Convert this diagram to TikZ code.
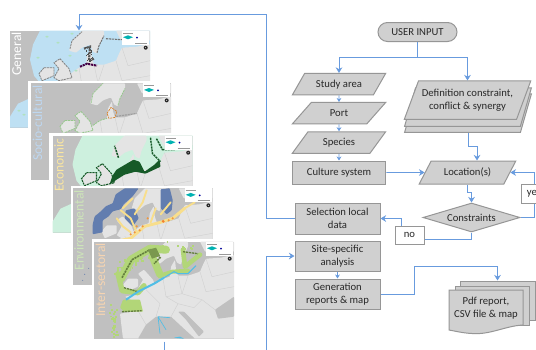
\documentclass[tikz,border=0pt]{standalone}
\usepackage{fontspec}
\setmainfont{Carlito}
\usetikzlibrary{shapes.geometric,shapes.misc,arrows.meta,calc}
\definecolor{flowfill}{RGB}{208,208,208}
\definecolor{flowline}{RGB}{150,150,150}
\definecolor{wire}{RGB}{104,155,222}
\definecolor{inkc}{RGB}{40,40,40}
\definecolor{seag}{RGB}{192,192,192}
\definecolor{landg}{RGB}{228,228,228}
\definecolor{bordg}{RGB}{208,208,208}
\definecolor{eezblue}{RGB}{190,224,243}
\definecolor{eezgreen}{RGB}{205,240,222}
\definecolor{darkgreen}{RGB}{22,90,40}
\definecolor{envblue}{RGB}{98,125,175}
\definecolor{envyellow}{RGB}{248,222,140}
\definecolor{envorange}{RGB}{240,150,60}
\definecolor{intg}{RGB}{178,214,120}
\definecolor{intd}{RGB}{98,125,60}
\definecolor{cyanl}{RGB}{80,190,230}
\definecolor{titleblue}{RGB}{190,215,240}
\definecolor{titleyellow}{RGB}{250,230,160}
\definecolor{titlegreen}{RGB}{205,228,185}
\definecolor{titlepeach}{RGB}{245,212,178}
\definecolor{palegreen}{RGB}{176,226,190}
\definecolor{coastgreen}{RGB}{150,200,140}
\tikzset{
  flow/.style={draw=flowline,fill=flowfill,line width=0.75pt,text=inkc,font=\fontsize{8}{9.6}\selectfont,align=center,inner sep=0pt},
  boxn/.style={flow,rectangle,minimum width=#1*0.75pt},
  para/.style={flow,trapezium,trapezium left angle=48,trapezium right angle=132,trapezium stretches=true,minimum height=21.5*0.75pt,minimum width=93.5*0.75pt},
  wirel/.style={draw=wire,line width=0.72pt},
  arr/.style={wirel,-{Stealth[length=4.2pt,width=5pt]}},
  arrs/.style={wirel,-{Stealth[length=3pt,width=3.6pt]}},
  tag/.style={draw=flowline,fill=white,line width=0.75pt,text=inkc,font=\fontsize{8}{9.6}\selectfont,inner sep=0pt},
  cardtitle/.style={rotate=90,anchor=east,inner sep=0pt,font=\fontsize{#1}{#1}\selectfont},
  band/.style={line join=round,line cap=round},
  coast/.style={dash pattern=on 1.6pt off 0.6pt},
}
% speckled band: x0 y0 x1 y1 count jitter size colour
\newcommand{\speck}[8]{%
  \foreach \i in {1,...,#5}{%
    \pgfmathsetmacro\ss{rnd}%
    \pgfmathsetmacro\xx{#1+(#3-#1)*\ss+#6*rand}%
    \pgfmathsetmacro\yy{#2+(#4-#2)*\ss+#6*rand}%
    \fill[#8] (\xx,\yy) rectangle +(#7,#7);%
  }%
}
% land masses, in card coordinates (140 x 97 px)
\newcommand{\eezshape}[1]{%
  \fill[#1] (30,0) -- (23,14) -- (20,29) -- (24,45) -- (34,57) -- (48,66) -- (100,66) -- (140,40) -- (140,0) -- cycle;
  \fill[#1] (0,97) -- (0,86) -- (8,73) -- (19,68) -- (24,80) -- (24,97) -- cycle;
}
\newcommand{\ukpath}{(50,28) -- (59,38) -- (62,47) -- (49,50) -- (44,47) -- (49,38) -- (44,32) -- cycle}
\newcommand{\iepath}{(34,37) -- (44,37) -- (44,45) -- (32,50) -- (29,43) -- cycle}
\newcommand{\landshape}{%
  \fill[landg,rounded corners=0.6pt]
    (29,97) -- (26,72) -- (44,69) -- (47,60) -- (36,58) -- (31,55) -- (44,52) -- (52,48) -- (62,42) -- (69,37)
    -- (76,35) -- (77,25) -- (81,18) -- (82,28) -- (84,34) -- (94,34) -- (106,30) -- (109,23) -- (112,17)
    -- (127,16) -- (140,13) -- (140,97) -- cycle;
  \fill[landg,rounded corners=0.6pt] \ukpath;
  \fill[landg,rounded corners=0.6pt] \iepath;
  \fill[landg,rounded corners=0.6pt] (59,20) -- (62,10) -- (72,0) -- (94,0) -- (94,5) -- (89,15) -- (87,23) -- (83,21) -- (80,14) -- (72,17) -- (66,22) -- cycle;
  \fill[landg,rounded corners=0.6pt] (106,0) -- (111,10) -- (140,10) -- (140,0) -- cycle;
  % Mediterranean, Adriatic, Black Sea
  \fill[seag,rounded corners=0.6pt] (44,97) -- (52,83) -- (62,75) -- (77,75) -- (91,88) -- (101,97) -- cycle;
  \fill[seag,rounded corners=0.6pt] (84,70) -- (90,70) -- (110,90) -- (105,95) -- (92,78) -- cycle;
  \fill[seag,rounded corners=0.6pt] (121,68) -- (140,55) -- (140,75) -- (124,77) -- cycle;
  \draw[bordg,line width=0.3pt] (52,48) -- (66,62) -- (62,75) (69,37) -- (72,55) -- (84,62) -- (77,75)
    (84,34) -- (88,52) -- (108,58) -- (121,68) (106,30) -- (112,50) -- (140,45) (72,55) -- (88,52)
    (44,69) -- (52,83) (94,34) -- (88,52) (84,62) -- (100,66) -- (108,58) (112,17) -- (118,35) -- (140,30);
}
\newcommand{\legendbox}{%
  \fill[white] (112,0) rectangle (139,14);
  \fill[teal!60!cyan] (113,6.5) -- (118,4.6) -- (123,6.5) -- (118,8.6) -- cycle;
  \fill[blue!60!black] (127,7) circle (1);
  \draw[black!40,line width=0.3pt] (113,2) -- (123,2) (125,12) -- (137,12);
  \fill[black!85] (135.7,17) circle (2);
  \fill[white] (135.7,17) circle (0.5);
}
\newcommand{\startcard}[2]{\begin{scope}[shift={(#1,#2)}]\begin{scope}\clip (0,0) rectangle (140,97);\fill[seag] (0,0) rectangle (140,97);}
\newcommand{\stopcard}{\legendbox\end{scope}\end{scope}}
\begin{document}
\begin{tikzpicture}[x=0.75pt,y=-0.75pt]
\pgfmathsetseed{4711}
\clip (0,0) rectangle (536,350);
\fill[white] (0,0) rectangle (536,350);
% ---------- General
\startcard{10}{30.7}
  \eezshape{eezblue}\landshape
  \foreach \a/\b in {37/6,62/3,28/27,60/25,66/40,58/60,14/84,9/80,48/12}{\fill[palegreen] (\a,\b) ellipse (1.8 and 1);}
  \draw[black!50,line width=0.6pt,coast] \ukpath;
  \draw[black!50,line width=0.6pt,coast] \iepath;
  \draw[black!50,line width=0.6pt,coast] (60,18) -- (62,10) -- (72,1);
  \draw[black!65,line width=1.6pt,coast] (74,18) -- (80,16) -- (79,30) -- (84,28);
  \speck{78}{18}{80}{32}{22}{2.6}{1.1}{black!70}
  \draw[black!55,line width=0.8pt,coast] (87,22) -- (89,15) -- (94,5) (96,8) -- (112,9);
  \draw[violet!55!black,line width=1.5pt,coast] (70,36) -- (77,33) -- (87,35);
\stopcard
\node[cardtitle=10.2,text=white] (tgen) at (16.5,32) {General};
% ---------- Socio-cultural
\fill[white] (28.3,80.8) rectangle (173,183);
\startcard{31}{83.4}
  \landshape
  \draw[coastgreen,line width=0.6pt,coast] \ukpath;
  \draw[coastgreen,line width=0.6pt,coast] \iepath;
  \draw[coastgreen,line width=0.6pt,coast] (60,20) -- (62,10) -- (72,0) (62,42) -- (69,37) -- (76,35) (87,22) -- (89,15) -- (94,5);
  \draw[orange!70!gray,line width=0.5pt,coast] (76,30) -- (80,24) -- (86,28) -- (84,34) -- (78,35) -- cycle;
  \draw[black!38,line width=0.9pt,coast] (85,33) -- (106,30);
\stopcard
\node[cardtitle=10.2,text=titleblue] (tsoc) at (37.5,85) {Socio-cultural};
% ---------- Economic
\fill[white] (49.3,133.2) rectangle (194,235.5);
\startcard{52.5}{135.7}
  \eezshape{eezgreen}\landshape
  \fill[darkgreen,rounded corners=0.5pt] (64,34) -- (81,24) -- (87,26) -- (92,36) -- (102,29) -- (107,24) -- (108,31) -- (93,38) -- (83,36) -- (72,39) -- (64,44) -- (57,49) -- (60,40) -- cycle;
  \draw[darkgreen,line width=0.8pt,coast] \ukpath;
  \draw[darkgreen,line width=0.8pt,coast] \iepath;
  \draw[darkgreen,line width=1.1pt,coast] (98,2) -- (100,18) -- (108,26) (104,3) -- (110,14) -- (122,14) (66,22) -- (62,10);
\stopcard
\node[cardtitle=10.2,text=titleyellow] (teco) at (59,138) {Economic};
% ---------- Environmental
\fill[white] (70.7,186) rectangle (215,287);
\startcard{72.7}{188.3}
  \landshape
  \fill[envblue,rounded corners=0.6pt] (20,36) -- (22,28) -- (27,24) -- (33,18) -- (40,15) -- (43,6) -- (52,0) -- (66,0) -- (60,8) -- (51,16) -- (48,21) -- (40,23) -- (36,28) -- (30,32) -- (30,44) -- (20,46) -- cycle;
  \fill[envblue,rounded corners=0.6pt] (88,1) -- (97,0) -- (100,12) -- (99,22) -- (94,26) -- (88,20) -- cycle;
  \fill[envblue,rounded corners=0.6pt] (53,22) -- (62,20) -- (66,30) -- (60,38) -- (52,30) -- cycle;
  \draw[envyellow,line width=2.2pt,band] (30,56) -- (58,50) -- (72,38) -- (88,34) -- (100,30) -- (112,20);
  \draw[envyellow,line width=1.4pt,band] (64,44) -- (58,30) -- (48,22) (62,26) -- (70,14) -- (74,2) (78,34) -- (83,20) (88,26) -- (98,14) (112,20) -- (122,14) (44,30) -- (50,38) -- (58,44) (50,20) -- (60,10);
  \foreach \a/\b in {62/44,70/38,58/46,67/42,48/53,75/30,100/30,96/32,64/38}{\fill[envorange] (\a,\b) circle (1.2);}
  \fill[envorange!85!red] (90.5,33) circle (1.6);
  \fill[envblue] (12,86) circle (0.6) (16,80) circle (0.5) (10,92) circle (0.5);
\stopcard
\node[cardtitle=10.2,text=titlegreen] (tenv) at (79,190) {Environmental};
% ---------- Inter-sectoral
\fill[white] (91.7,239.3) rectangle (236,339.5);
\startcard{94}{241.7}
  \landshape
  \fill[intg,rounded corners=0.6pt] (29,58) -- (46,58) -- (49,70) -- (30,70) -- (26,66) -- cycle;
  \draw[intg,line width=6pt,band] (27,37) -- (37,18) -- (56,7) -- (72,8);
  \draw[intg,line width=5.5pt,band] (58,14) -- (66,33);
  \draw[intg,line width=4pt,band] (24,32) -- (28,49) -- (44,51) -- (50,44);
  \draw[intg,line width=3.5pt,band] (89,8) -- (91,25) -- (106,13);
  \draw[intg,line width=3pt,band] (66,34) -- (78,30) -- (94,29);
  \speck{18}{65}{21}{95}{30}{3.5}{1.9}{intg}
  \speck{22}{28}{70}{0}{60}{5}{1.8}{intg}
  \speck{82}{6}{100}{4}{10}{3}{1.6}{intg}
  \draw[intd,line width=1.2pt,coast] (28,36) -- (38,18) -- (56,8) -- (66,16) -- (60,22);
  \draw[intd,line width=1pt,coast] (30,46) -- (44,50) (28,70) -- (48,69) (89,10) -- (104,12);
  \fill[intd!70!intg] (54,8) -- (62,6) -- (66,14) -- (58,17) -- cycle;
  \draw[cyanl,line width=1.5pt] (32,58) -- (44,50) -- (60,42) -- (70,36);
  \draw[cyanl,line width=0.8pt] (70,36) -- (80,30) -- (84,32) -- (94,32) -- (102,24);
  \draw[cyanl,line width=0.5pt] (64,75) -- (66,92) (64,75) -- (72,88) (64,75) -- (76,76);
  \fill[cyanl] (80,96) -- (86,95) -- (90,97) -- cycle;
\stopcard
\node[cardtitle=10.2,text=titlepeach] (tint) at (100.5,243) {Inter-sectoral};
% ---------- Flow chart
\node[flow,rounded rectangle,minimum width=79*0.75pt,minimum height=19*0.75pt] (ui) at (417.5,32) {USER INPUT};
\node[para] (study) at (339,84.2) {Study area};
\node[para] (port) at (339,113.2) {Port};
\node[para] (species) at (339,142.5) {Species};
\node[boxn=93.5,minimum height=23*0.75pt] (culture) at (339,172.5) {Culture system};
\tikzset{defp/.style={flow,trapezium,trapezium left angle=59,trapezium right angle=121,trapezium stretches=true,minimum height=38.5*0.75pt,minimum width=127*0.75pt}}
\node[defp] (defc) at (468,113.2) {\phantom{Definition}};
\node[defp] (defb) at (468,107) {\phantom{Definition}};
\node[defp] (def) at (467.5,100.2) {Definition constraint,\\conflict \& synergy};
\node[flow,trapezium,trapezium left angle=50,trapezium right angle=130,trapezium stretches=true,minimum height=23*0.75pt,minimum width=97*0.75pt] (loc) at (467.5,172.5) {Location(s)};
\node[flow,diamond,aspect=3.34,minimum width=97*0.75pt,minimum height=29*0.75pt] (con) at (471.5,217.5) {Constraints};
\node[tag,minimum width=26*0.75pt,minimum height=19*0.75pt] (yes) at (534,193.5) {yes};
\node[tag,minimum width=29*0.75pt,minimum height=18*0.75pt] (no) at (409.5,235) {no};
\node[boxn=85,minimum height=31*0.75pt] (sel) at (337.5,218.5) {Selection local\\data};
\node[boxn=85,minimum height=30*0.75pt] (site) at (337.5,256) {Site-specific\\analysis};
\node[boxn=85,minimum height=30*0.75pt] (gen) at (337.5,294) {Generation\\reports \& map};
% document stack
\node[flow,rectangle,minimum width=75*0.75pt,minimum height=39*0.75pt] (pdfb) at (497.5,300.5) {};
\node[flow,rectangle,minimum width=74*0.75pt,minimum height=39*0.75pt] (pdfc) at (492,305.5) {};
\draw[flow] (449,290) -- (523,290) -- (523,325) .. controls (505,326) and (490,335) .. (472,333.5) .. controls (462,333) and (455,331) .. (449,330) -- cycle;
\node[text=inkc,font=\fontsize{8}{9.6}\selectfont,align=center,inner sep=0pt] (pdf) at (486,308.5) {Pdf report,\\CSV file \& map};
% ---------- Connector helpers
\coordinate (split) at (417.5,57.5);
\coordinate (busa) at (266,14.5);
\coordinate (gentop) at (79,30.5);
\coordinate (busb) at (266,350);
\coordinate (busc) at (414,266);
\coordinate (stubt) at (164,341.5);
\coordinate (stubb) at (164,350);
\draw[wirel] (ui.south) -- (split);
\draw[arr] (split) -| (study.north);
\draw[arr] (split) -| (def.north);
\draw[arrs] (study.south) -- (port.north);
\draw[arrs] (port.south) -- (species.north);
\draw[arrs] (species.south) -- (culture.north);
\draw[arr] (culture.east) -- (loc.west);
\draw[arr] (defc.south) -- ++(0,14) -| ($(loc.north)+(9.5,0)$);
\draw[arr] (loc.south) -- ++(0,8) -| (con.north);
\draw[wirel] (con.east) -| (yes.south);
\draw[arr] (yes.north) |- (loc.east);
\draw[wirel] (con.south) |- ($(no.east)+(0,4.5)$);
\draw[arr] ($(no.north)+(-8.5,0)$) |- (sel.east);
\draw[arr] (sel.west) -| (busa) -| (gentop);
\draw[arr] (busb) |- (site.west);
\draw[arrs] (site.south) -- (gen.north);
\draw[arr] (gen.east) -| (busc) -| (pdfb.north);
\draw[wirel] (stubt) -- (stubb);
\end{tikzpicture}
\end{document}
